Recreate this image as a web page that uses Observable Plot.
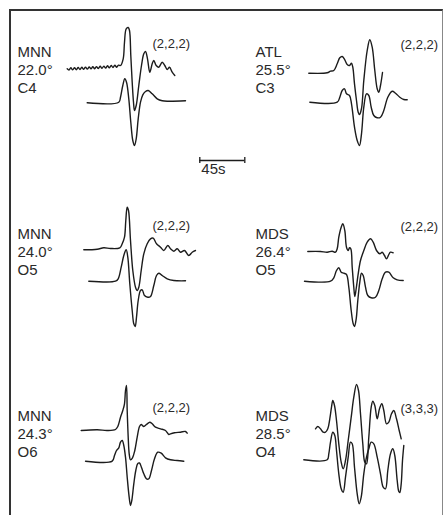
<!DOCTYPE html>
<html><head><meta charset="utf-8">
<script src="https://cdn.jsdelivr.net/npm/d3@7"></script>
<script src="https://cdn.jsdelivr.net/npm/@observablehq/plot@0.6"></script>
<style>
html,body{margin:0;padding:0;background:#fff;overflow:hidden;}
#wrap{position:relative;width:445px;height:515px;overflow:hidden;}
#wrap svg{display:block;}
#frame{position:absolute;left:9px;top:9px;width:431px;height:600px;border-top:2px solid #333;border-left:2px solid #333;border-right:1.5px solid #888;pointer-events:none;}
g[aria-label="station"] text{letter-spacing:1.8px;}
g[aria-label="mode"] text{letter-spacing:1.6px;}
g[aria-label="scale label"] text{letter-spacing:1.2px;}
</style></head><body><div id="wrap"><div id="frame"></div></div>
<script>
// Panel descriptors (reading order: left/right, top to bottom)
const stations  = ["MNN", "ATL", "MNN", "MDS", "MNN", "MDS"];
const distances = ["22.0°", "25.5°", "24.0°", "26.4°", "24.3°", "28.5°"];
const codes     = ["C4", "C3", "O5", "O5", "O6", "O4"];
const modes     = ["(2,2,2)", "(2,2,2)", "(2,2,2)", "(2,2,2)", "(2,2,2)", "(3,3,3)"];
const columns   = ["L", "R", "L", "R", "L", "R"];
const rows      = [0, 0, 1, 1, 2, 2];

// Traces: [time (s), amplitude] — observed (upper) and synthetic (lower)
const mnn22Obs = [[66.7,31.7],[68.5,30.5],[70.3,32.7],[72.2,30.7],[74,32.8],[75.8,30.8],[77.7,33],[79.5,31],[81.3,33.2],[83.2,31.2],[85,33.4],[86.8,31.4],[88.7,33.5],[90.5,31.6],[92.3,33.7],[94.2,31.8],[96,33.9],[97.8,32],[99.7,34.2],[101.5,32.2],[103.3,34.4],[105.2,32.4],[107,34.7],[108.8,32.7],[110.7,35],[112.5,33],[114.3,35.2],[116.2,33.3],[118,35.4],[120,35],[122.7,41.7],[124,58.3],[125.7,71.7],[127.7,73],[129,70],[130.3,45],[131.7,18.3],[133,-1.7],[134,-10],[135.7,-5],[138.3,15],[141,35],[143.3,46.7],[145,49],[147,41.7],[149.3,28.3],[151.7,36.7],[153.3,40],[155.7,35],[158.3,33.3],[161.7,38.3],[164.3,35],[166.7,31],[169,33.3],[171.7,28.3],[174.3,25]];
const mnn22Syn = [[86.7,-2.3],[118.3,-1.7],[120,3.3],[122.3,15],[124.3,21.7],[126,18.3],[128.3,1.7],[130.3,-21.7],[132.3,-40],[134,-45],[135.7,-38.3],[137.7,-18.3],[140,-1.7],[142.3,5.7],[145,9],[147.7,10],[151.7,6.7],[156.7,1.7],[161.7,-0.3],[168.3,-0.7],[185,-0.3]];
const atl25Obs = [[70.3,27.3],[88.7,27.7],[92,29.3],[95.3,30],[98.7,36.7],[101.3,42.7],[103.7,44],[106.3,40.7],[108.7,36],[111,35],[113,37.3],[114.3,33.3],[116,16.7],[118,0],[119.7,-11.7],[121,-14],[123,-8],[125.3,20],[128.7,50],[131.3,60.7],[133.7,53.3],[136.3,30],[138.7,11.7],[140.3,8.3],[142,15],[144,28]];
const atl25Syn = [[71.3,-1.7],[98.7,-1.7],[101.3,3.3],[103.7,10],[106,11.7],[108,6.7],[111,5],[113,-3.3],[116,-26.7],[118.7,-40],[121,-45],[123,-33.3],[125.3,-6.7],[128,6.7],[130.3,5],[132.7,-6.7],[135.3,-15],[138.7,-17.3],[142,-16.7],[145.3,-10],[149.3,3.3],[153.7,9.3],[157,7.3],[161.3,3.3],[165.3,1],[168.7,0.7]];
const mnn24Obs = [[83.3,32.7],[96.7,33.3],[103.3,34.7],[110,34],[119.3,34.7],[121.7,38.7],[124,45.3],[125.3,62],[126.7,75.3],[128,72],[130,42],[132.3,12],[135,-4.7],[136.7,-8],[138.3,-4.7],[140.7,12],[143.3,28.7],[146.7,38.7],[150,43.7],[152.7,44.3],[156,38.7],[160,35.3],[163.3,32],[167.3,37],[170,33.7],[173.3,31.3],[176.7,33.7],[180,30.3],[184,32],[188.3,27],[191.7,30.3],[195,32]];
const mnn24Syn = [[88.3,1.3],[115,1.3],[117.7,3.7],[120.7,15.3],[123.3,27],[125.7,32.7],[127.3,25.3],[129.3,-1.3],[131.7,-28],[133.3,-41.3],[134.7,-44],[136,-34.7],[137.7,-18],[140,-8],[141.7,-7.3],[144,-13],[147.3,-14.7],[150,-14],[153.3,-3],[156,7],[158.3,9.3],[161.7,7],[166.7,3.7],[173.3,2],[185,1.7]];
const mds26Obs = [[69.3,31],[82,31],[88.7,30.3],[93.7,31.3],[97,30.3],[98.7,33.7],[100.3,45.3],[102.7,55.3],[104.3,58.7],[106.3,52],[108,35.3],[109.7,32],[111,34.7],[112.3,33.7],[113.7,15.3],[115.3,-4.7],[116.3,-14],[117.7,-6],[119.7,8.7],[122,22],[125.3,32],[128.7,40.3],[132,43.7],[134.7,40.3],[138,32],[141.3,28.7],[143.7,30.3],[146,27],[148,23.7],[150.3,28],[152,30.3],[154.7,29.7]];
const mds26Syn = [[66,1.3],[92,1.3],[95.3,4.7],[98,12],[100.3,14.7],[102.7,10.3],[105.3,9.3],[108,8],[110.3,-4.7],[112.7,-28],[114.7,-41.3],[116,-44],[117.7,-36.3],[119.3,-18],[121.3,0.3],[123,9.3],[124.7,7],[127,-4.7],[129.3,-13],[132.7,-15.3],[137,-14.7],[140.3,-8],[143.7,3.7],[147,10.3],[150.3,10.3],[154.7,4.7],[158.7,2.7],[164.7,2]];
const mnn243Obs = [[80.7,34],[96.7,34.7],[106.7,34],[115,35],[117.3,38],[120,47.3],[122.3,54],[124,60.7],[125,74],[126,79],[126.7,54],[127.7,27.3],[128.7,10.7],[130,4.7],[132,6.7],[134.3,14],[136.7,27.3],[139,38],[140.7,40],[143.3,38],[146,40],[149.3,42.3],[151.7,40.7],[155,37.3],[160,35.7],[165,34],[168.3,30],[170,30.7],[174,31.7],[180,32.3],[185,33],[186.7,31.3]];
const mnn243Syn = [[85,3.3],[111.7,3.3],[114,9],[116,14],[118.3,16.7],[120,22.3],[121.7,24],[123.3,19],[125,7.3],[126.7,-12.7],[128.3,-29.3],[130,-41],[131.3,-36],[133.3,-19.3],[135.3,-6],[137.3,1],[139,1.5],[141,-3],[143.3,-9.3],[146,-14.3],[148.3,-14.3],[151,-6],[154,5.7],[157.3,12.3],[160.7,11.3],[165,6.7],[170,4.7],[176.7,4],[183.3,3.3]];
const mds28Obs = [[77,35.7],[79.3,38],[82,35.7],[84.7,32.3],[87,32.3],[89.3,35.7],[91.3,45.7],[93,57.3],[94.3,64],[96,59],[98,44],[100.3,20.7],[102.7,2.3],[104.7,-4.3],[107,4],[109.7,24],[112.7,47.3],[115.3,67.3],[118,80],[120,74],[122,50.7],[124.3,20.7],[126.3,2.3],[128,0.7],[130.3,27.3],[132.7,57.3],[134.3,63.3],[136.3,59],[138.7,45.7],[141,55.7],[143.3,60.7],[145.3,54],[148,40.7],[150.3,42.3],[153,50.7],[155.3,54],[158,45.7],[160.7,34],[162.7,25.7]];
const mds28Syn = [[65.3,4.7],[88.7,4.7],[90.3,10.7],[92,22.3],[94.3,32.3],[96.3,29],[98,14],[100.3,-9.3],[102.7,-24.3],[104.7,-27.7],[107,-12.7],[109.7,7.3],[112,22.3],[113.7,20.7],[116,-2.7],[118.7,-29.3],[120.7,-39.3],[122.7,-32.7],[125.3,-9.3],[128,7.3],[130.3,15.7],[132.7,22.3],[135.3,20.7],[138.7,7.3],[142,-9.3],[144.7,-22.7],[147,-24.3],[149.3,-6],[152,10.7],[154.3,15.7],[156.3,9],[158.7,-16],[160.3,-27],[161.3,-28],[162.7,-19.3],[164,4],[165.3,19]];

const panelTraces = [[mnn22Obs, mnn22Syn], [atl25Obs, atl25Syn], [mnn24Obs, mnn24Syn], [mds26Obs, mds26Syn], [mnn243Obs, mnn243Syn], [mds28Obs, mds28Syn]];

// Time scale bar
const scaleBarSeconds = 45;
const scaleBarLabel = "45s";

// ---- build tables ----
const panels = stations.map((s, i) => ({
  col: columns[i], row: rows[i],
  label: `${s}\n${distances[i]}\n${codes[i]}`,
  mode: modes[i]
}));
const traceData = [];
panelTraces.forEach(([obs, syn], i) => {
  for (const [kind, arr] of [["obs", obs], ["syn", syn]]) {
    for (const [t, a] of arr) traceData.push({col: columns[i], row: rows[i], trace: `${i}-${kind}`, t, a});
  }
});
const bar = [{col: "L", row: 0, t0: 199.3, t1: 199.3 + scaleBarSeconds, a: -60, label: scaleBarLabel}];

const ink = "#1c1c1c";
const textInk = "#2a2a2a";
const font = "Liberation Sans, Arial, Helvetica, sans-serif";

const chart = Plot.plot({
  width: 445, height: 515, margin: 0,
  facet: {marginTop: 0, marginRight: 0, marginBottom: 0, marginLeft: 0},
  fx: {domain: ["L", "R"], axis: null, paddingInner: 2 - 445 / 238, paddingOuter: 0, round: false},
  fy: {domain: [0, 1, 2], axis: null, paddingInner: 3 - 515 / 182, paddingOuter: 0, round: false},
  x: {domain: [0, 207], axis: null},
  y: {domain: [-51, 100], axis: null},
  style: {background: "transparent", overflow: "visible"},
  marks: [
    Plot.line(traceData, {fx: "col", fy: "row", x: "t", y: "a", z: "trace", curve: "catmull-rom", stroke: ink, strokeWidth: 1.4}),
    Plot.text(panels, {ariaLabel: "station", fx: "col", fy: "row", text: "label", frameAnchor: "top-left", dx: 17, dy: 68.5, lineAnchor: "middle", lineHeight: 1.22, fontSize: 15, fontFamily: font, fill: textInk}),
    Plot.text(panels.filter(d => d.col === "L"), {ariaLabel: "mode", fx: "col", fy: "row", text: "mode", frameAnchor: "top-left", dx: 152, dy: 43.5, lineAnchor: "middle", fontSize: 13, fontFamily: font, fill: textInk}),
    Plot.text(panels.filter(d => d.col === "R"), {ariaLabel: "mode", fx: "col", fy: "row", text: "mode", frameAnchor: "top-left", dx: 162, dy: 44, lineAnchor: "middle", fontSize: 13, fontFamily: font, fill: textInk}),
    Plot.ruleY(bar, {fx: "col", fy: "row", x1: "t0", x2: "t1", y: "a", stroke: ink, strokeWidth: 1.3}),
    Plot.ruleX(bar, {fx: "col", fy: "row", x: "t0", y1: d => d.a - 3, y2: d => d.a + 3, stroke: ink, strokeWidth: 1.3}),
    Plot.ruleX(bar, {fx: "col", fy: "row", x: "t1", y1: d => d.a - 3, y2: d => d.a + 3, stroke: ink, strokeWidth: 1.3}),
    Plot.text(bar, {ariaLabel: "scale label", fx: "col", fy: "row", x: "t0", y: d => d.a - 9, dx: 1.5, text: "label", textAnchor: "start", fontSize: 15, fontFamily: font, fill: textInk})
  ]
});
document.getElementById("wrap").prepend(chart);
</script>
</body></html>
